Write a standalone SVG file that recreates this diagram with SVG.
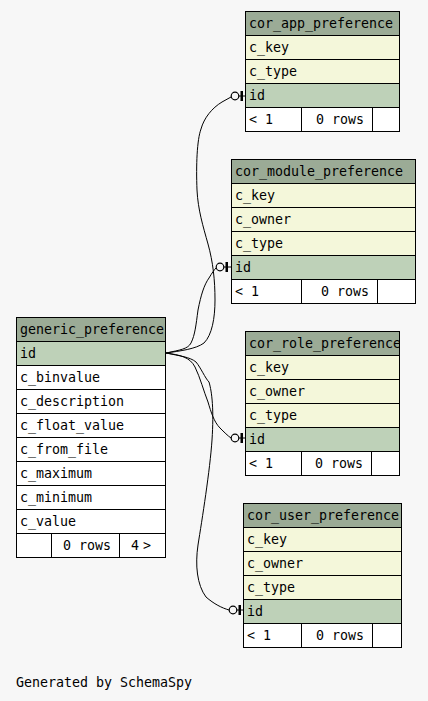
<svg xmlns="http://www.w3.org/2000/svg" width="428" height="701" viewBox="0 0 428 701">
<defs>
<style>
.bg{fill:#f7f7f7}
.h{fill:#9bab96;stroke:#000;stroke-width:1}
.r{fill:#f4f7da;stroke:#000;stroke-width:1}
.k{fill:#bed1b8;stroke:#000;stroke-width:1}
.w{fill:#ffffff;stroke:#000;stroke-width:1}
text{font-family:"DejaVu Sans Mono","Liberation Mono",monospace;font-size:13.3px;fill:#000}
.e{fill:none;stroke:#000;stroke-width:1}
.c{fill:none;stroke:#000;stroke-width:1.2}
.b{fill:#000}
</style>
<clipPath id="clipRole"><rect x="245" y="331" width="154" height="24"/></clipPath>
</defs>
<rect class="bg" x="0" y="0" width="428" height="701"/>

<g id="connectors">
<path class="e" d="M166,353 C180,351 196,349 204,343 C212,335 215,318 215,300 C215,280 213,262 208,244 C203,226 198,210 197,190 C196,165 197,140 201,129 C204,118 212,108 222,102 L231,97"/>
<circle class="c" cx="235" cy="96" r="3.8"/><line class="e" x1="238.8" y1="96" x2="245" y2="96"/><rect class="b" x="240.5" y="91" width="2.5" height="10"/>

<path class="e" d="M166,353 C180,350 188,349 191,343 C195,335 196,325 198,310 C201,295 204,285 209,278 C212,273 214,270 216,268"/>
<circle class="c" cx="220" cy="267" r="3.8"/><line class="e" x1="223.8" y1="267" x2="231" y2="267"/><rect class="b" x="225.5" y="262" width="2.5" height="10"/>

<path class="e" d="M166,353 C180,355 190,357 195,367 C200,377 204,392 208,402 C211,412 214,422 220,428 C224,432 228,436 231,438"/>
<circle class="c" cx="235" cy="438" r="3.8"/><line class="e" x1="238.8" y1="438" x2="245" y2="438"/><rect class="b" x="240.5" y="433" width="2.5" height="10"/>

<path class="e" d="M166,353 C180,356 190,357 196,362 C201,368 205,378 209,382 C212,392 214,410 212,440 C210,470 202,520 198,545 C195,565 197,585 206,597 C214,604 222,608 229,610"/>
<circle class="c" cx="233" cy="610" r="3.8"/><line class="e" x1="236.8" y1="610" x2="243" y2="610"/><rect class="b" x="238.5" y="605" width="2.5" height="10"/>
</g>

<g id="cor_app_preference">
<rect class="h" x="245.5" y="11.5" width="154" height="24"/>
<rect class="r" x="245.5" y="35.5" width="154" height="24"/>
<rect class="r" x="245.5" y="59.5" width="154" height="24"/>
<rect class="k" x="245.5" y="83.5" width="154" height="24"/>
<rect class="w" x="245.5" y="107.5" width="56" height="24"/>
<rect class="w" x="301.5" y="107.5" width="71" height="24"/>
<rect class="w" x="372.5" y="107.5" width="27" height="24"/>
<text x="249" y="28">cor_app_preference</text>
<text x="249" y="52">c_key</text>
<text x="249" y="76">c_type</text>
<text x="249" y="100">id</text>
<text x="249" y="124">&lt; 1</text>
<text x="364" y="124" text-anchor="end">0 rows</text>
</g>

<g id="cor_module_preference">
<rect class="h" x="231.5" y="159.5" width="184" height="24"/>
<rect class="r" x="231.5" y="183.5" width="184" height="24"/>
<rect class="r" x="231.5" y="207.5" width="184" height="24"/>
<rect class="r" x="231.5" y="231.5" width="184" height="24"/>
<rect class="k" x="231.5" y="255.5" width="184" height="24"/>
<rect class="w" x="231.5" y="279.5" width="70" height="24"/>
<rect class="w" x="301.5" y="279.5" width="76" height="24"/>
<rect class="w" x="377.5" y="279.5" width="38" height="24"/>
<text x="235" y="176">cor_module_preference</text>
<text x="235" y="200">c_key</text>
<text x="235" y="224">c_owner</text>
<text x="235" y="248">c_type</text>
<text x="235" y="272">id</text>
<text x="235" y="296">&lt; 1</text>
<text x="369" y="296" text-anchor="end">0 rows</text>
</g>

<g id="cor_role_preference">
<rect class="h" x="245.5" y="331.5" width="154" height="24"/>
<rect class="r" x="245.5" y="355.5" width="154" height="24"/>
<rect class="r" x="245.5" y="379.5" width="154" height="24"/>
<rect class="r" x="245.5" y="403.5" width="154" height="24"/>
<rect class="k" x="245.5" y="427.5" width="154" height="24"/>
<rect class="w" x="245.5" y="451.5" width="56" height="24"/>
<rect class="w" x="301.5" y="451.5" width="70" height="24"/>
<rect class="w" x="371.5" y="451.5" width="28" height="24"/>
<text x="249" y="348" clip-path="url(#clipRole)">cor_role_preference</text>
<text x="249" y="372">c_key</text>
<text x="249" y="396">c_owner</text>
<text x="249" y="420">c_type</text>
<text x="249" y="444">id</text>
<text x="249" y="468">&lt; 1</text>
<text x="363" y="468" text-anchor="end">0 rows</text>
</g>

<g id="cor_user_preference">
<rect class="h" x="243.5" y="503.5" width="158" height="24"/>
<rect class="r" x="243.5" y="527.5" width="158" height="24"/>
<rect class="r" x="243.5" y="551.5" width="158" height="24"/>
<rect class="r" x="243.5" y="575.5" width="158" height="24"/>
<rect class="k" x="243.5" y="599.5" width="158" height="24"/>
<rect class="w" x="243.5" y="623.5" width="58" height="24"/>
<rect class="w" x="301.5" y="623.5" width="71" height="24"/>
<rect class="w" x="372.5" y="623.5" width="29" height="24"/>
<text x="247" y="520">cor_user_preference</text>
<text x="247" y="544">c_key</text>
<text x="247" y="568">c_owner</text>
<text x="247" y="592">c_type</text>
<text x="247" y="616">id</text>
<text x="247" y="640">&lt; 1</text>
<text x="364" y="640" text-anchor="end">0 rows</text>
</g>

<g id="generic_preference">
<rect class="h" x="16.5" y="317.5" width="149" height="24"/>
<rect class="k" x="16.5" y="341.5" width="149" height="24"/>
<rect class="w" x="16.5" y="365.5" width="149" height="24"/>
<rect class="w" x="16.5" y="389.5" width="149" height="24"/>
<rect class="w" x="16.5" y="413.5" width="149" height="24"/>
<rect class="w" x="16.5" y="437.5" width="149" height="24"/>
<rect class="w" x="16.5" y="461.5" width="149" height="24"/>
<rect class="w" x="16.5" y="485.5" width="149" height="24"/>
<rect class="w" x="16.5" y="509.5" width="149" height="24"/>
<rect class="w" x="16.5" y="533.5" width="35" height="24"/>
<rect class="w" x="51.5" y="533.5" width="68" height="24"/>
<rect class="w" x="119.5" y="533.5" width="46" height="24"/>
<text x="20" y="334">generic_preference</text>
<text x="20" y="358">id</text>
<text x="20" y="382">c_binvalue</text>
<text x="20" y="406">c_description</text>
<text x="20" y="430">c_float_value</text>
<text x="20" y="454">c_from_file</text>
<text x="20" y="478">c_maximum</text>
<text x="20" y="502">c_minimum</text>
<text x="20" y="526">c_value</text>
<text x="111" y="550" text-anchor="end">0 rows</text>
<text><tspan x="131" y="550">4</tspan> <tspan x="143" y="550">&gt;</tspan></text>
</g>

<text x="16" y="687">Generated by SchemaSpy</text>
</svg>
